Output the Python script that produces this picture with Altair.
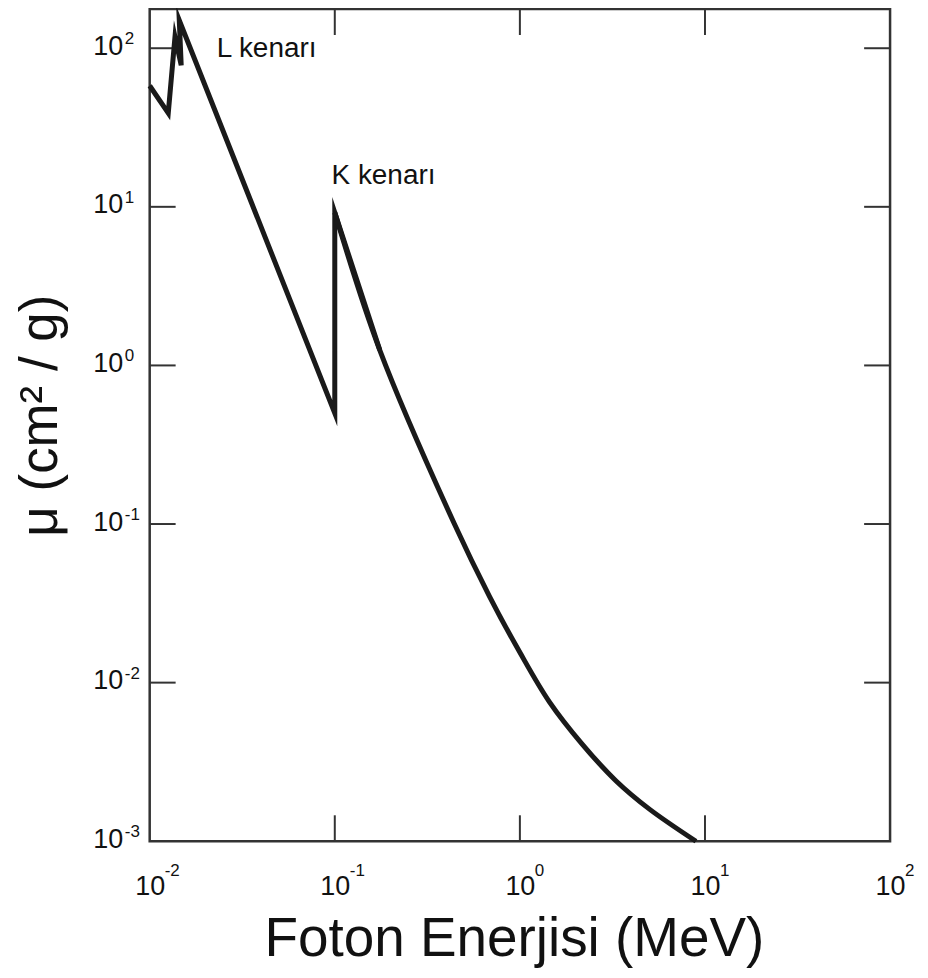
import altair as alt
import pandas as pd

# ---- data ----
# edge part (drawn with straight segments and sharp corners)
edge_energy = [0.01, 0.0126, 0.0137, 0.0148, 0.01445, 0.1, 0.1, 0.175]
edge_mu = [58, 39, 118, 78, 150, 0.5, 9.2, 1.25]
# smooth part above the K edge
tail_energy = [0.1, 0.175, 0.443, 0.686, 0.994, 1.44, 2.17, 3.31, 4.99, 8.94]
tail_mu = [9.2, 1.25, 0.1, 0.0349, 0.0157, 0.0076, 0.0041, 0.0024, 0.0016, 0.001]

annot_text = ["L kenarı", "K kenarı"]
annot_x = [0.023, 0.096]
annot_y = [88, 14]

x_ticks = [0.01, 0.1, 1, 10, 100]
x_exp = ["-2", "-1", "0", "1", "2"]
y_ticks = [0.001, 0.01, 0.1, 1, 10, 100]
y_exp = ["-3", "-2", "-1", "0", "1", "2"]
x_inner = [0.1, 1, 10]
y_inner = [0.01, 0.1, 1, 10, 100]

W, H = 742, 834
TICK = 26
FONT = "Liberation Sans"
INK = "#111"

edge = pd.DataFrame({"E": edge_energy, "mu": edge_mu, "idx": list(range(len(edge_energy)))})
tail = pd.DataFrame({"E": tail_energy, "mu": tail_mu})
ann = pd.DataFrame({"t": annot_text, "E": annot_x, "mu": annot_y})
xt = pd.DataFrame({"E": x_inner})
yt = pd.DataFrame({"mu": y_inner})
xe = pd.DataFrame({"E": x_ticks, "e": x_exp})
ye = pd.DataFrame({"mu": y_ticks, "e": y_exp})

xscale = alt.Scale(type="log", domain=[0.01, 100], nice=False)
yscale = alt.Scale(type="log", domain=[0.001, 176.6], nice=False)

xaxis = alt.Axis(values=x_ticks, labelExpr="'10'", ticks=False, domain=False, grid=False,
                 labelFontSize=27, labelFont=FONT, labelColor=INK, labelPadding=32,
                 labelAlign="center", labelBaseline="top", labelFlush=False,
                 title="Foton Enerjisi (MeV)", titleFont=FONT, titleFontSize=55,
                 titleFontWeight="normal", titleColor=INK, titleX=365, titleY=115,
                 titleAlign="center", titleBaseline="alphabetic")
yaxis = alt.Axis(values=y_ticks, labelExpr="'10'", ticks=False, domain=False, grid=False,
                 labelFontSize=27, labelFont=FONT, labelColor=INK, labelPadding=27,
                 labelAlign="right", labelBaseline="middle", labelOffset=-2, labelFlush=False,
                 title="\u03bc (cm\u00b2 / g)", titleFont=FONT, titleFontSize=53,
                 titleFontWeight="normal", titleColor=INK, titleX=-109, titleY=407,
                 titleAngle=-90, titleAlign="center", titleBaseline="middle")

line_style = dict(color="#1a1a1a", strokeWidth=5, strokeJoin="miter", strokeMiterLimit=10)

edge_line = alt.Chart(edge).mark_line(**line_style).encode(
    x=alt.X("E:Q", scale=xscale, axis=xaxis),
    y=alt.Y("mu:Q", scale=yscale, axis=yaxis),
    order="idx:Q",
)
tail_line = alt.Chart(tail).mark_line(interpolate="catmull-rom", **line_style).encode(
    x=alt.X("E:Q", scale=xscale), y=alt.Y("mu:Q", scale=yscale))

texts = alt.Chart(ann).mark_text(align="left", baseline="alphabetic", fontSize=28, font=FONT,
                                 color=INK).encode(
    x=alt.X("E:Q", scale=xscale), y=alt.Y("mu:Q", scale=yscale), text="t:N")

x_sup = alt.Chart(xe).mark_text(align="left", baseline="alphabetic", fontSize=17, font=FONT,
                                color=INK, dx=15).encode(
    x=alt.X("E:Q", scale=xscale), y=alt.value(H + 35), text="e:N")
y_sup = alt.Chart(ye).mark_text(align="left", baseline="alphabetic", fontSize=17, font=FONT,
                                color=INK, dy=-4).encode(
    y=alt.Y("mu:Q", scale=yscale), x=alt.value(-25), text="e:N")

tick_style = dict(color="#333", strokeWidth=2)
bottom = alt.Chart(xt).mark_rule(**tick_style).encode(
    x=alt.X("E:Q", scale=xscale), y=alt.value(H), y2=alt.value(H - TICK))
top = alt.Chart(xt).mark_rule(**tick_style).encode(
    x=alt.X("E:Q", scale=xscale), y=alt.value(0), y2=alt.value(TICK))
left = alt.Chart(yt).mark_rule(**tick_style).encode(
    y=alt.Y("mu:Q", scale=yscale), x=alt.value(0), x2=alt.value(TICK))
right = alt.Chart(yt).mark_rule(**tick_style).encode(
    y=alt.Y("mu:Q", scale=yscale), x=alt.value(W), x2=alt.value(W - TICK))

chart = alt.layer(bottom, top, left, right, edge_line, tail_line, texts, x_sup, y_sup).properties(
    width=W, height=H,
    padding={"left": 142, "top": 0, "right": 30, "bottom": 130},
    autosize=alt.AutoSizeParams(type="none"),
    background="white",
).configure_view(stroke="#333", strokeWidth=2.5)

chart.save("out.html", embed_options={"renderer": "svg", "actions": False})
